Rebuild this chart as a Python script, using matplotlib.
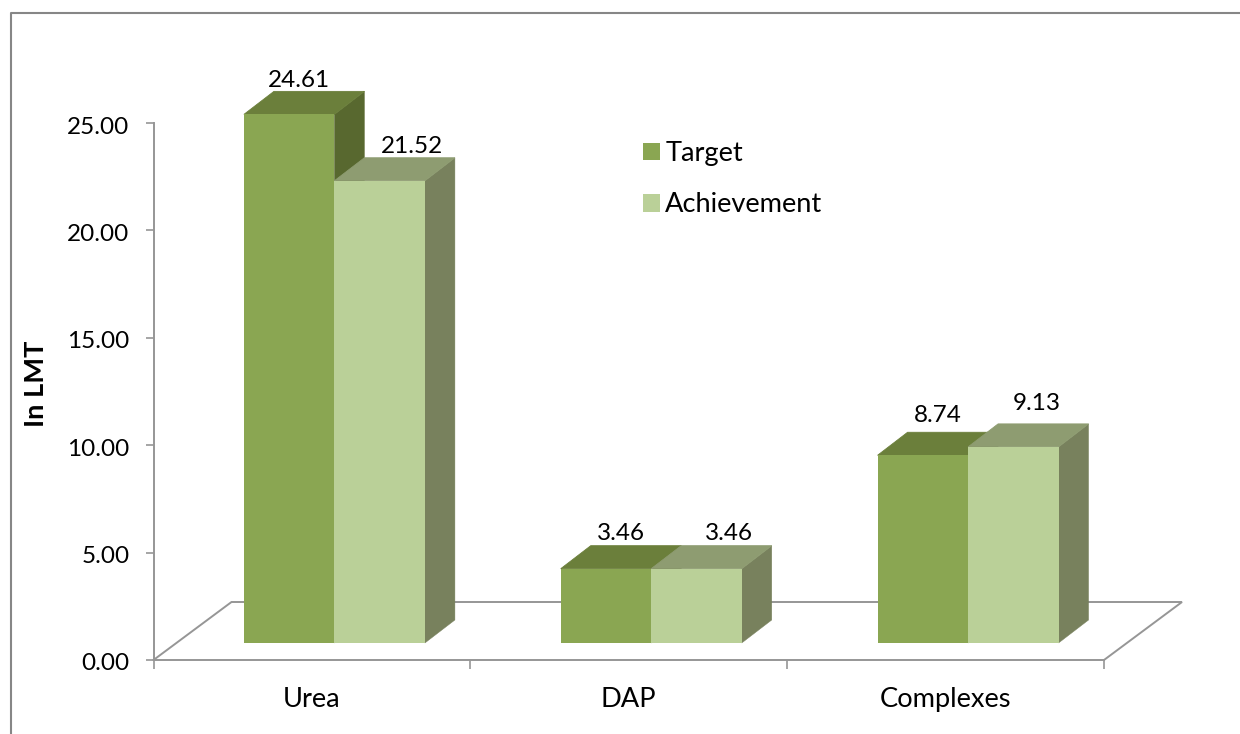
import matplotlib
matplotlib.use("Agg")
import matplotlib.pyplot as plt
from matplotlib.lines import Line2D
from matplotlib.patches import Patch
from matplotlib.transforms import ScaledTranslation

categories = ["Urea", "DAP", "Complexes"]
target = [24.61, 3.46, 8.74]
achievement = [21.52, 3.46, 9.13]
y_ticks = [0, 5, 10, 15, 20, 25]
series_names = ["Target", "Achievement"]

W, H = 1240, 734
plt.rcParams["font.family"] = ["Lato", "DejaVu Sans"]
FS_NUM = 17.5
FS_TXT = 19.6
AXC = "#969696"

fig = plt.figure(figsize=(W / 100, H / 100), dpi=100, facecolor="white")
L, R, T, B = 153.5, 1104, 123, 660
ax = fig.add_axes([L / W, 1 - B / H, (R - L) / W, (B - T) / H])
ax.set_xlim(0, 3)
ax.set_ylim(0, 25)
ax.patch.set_alpha(0)

px = 3 / (R - L)          # x data units per pixel
py = 25 / (B - T)         # y data units per pixel

for s in ("top", "right"):
    ax.spines[s].set_visible(False)
for s in ("left", "bottom"):
    ax.spines[s].set_color(AXC)
    ax.spines[s].set_linewidth(1.4)

ax.set_yticks(y_ticks)
ax.set_yticklabels([f"{v:.2f}" for v in y_ticks], fontsize=FS_NUM, color="black")
ax.tick_params(axis="y", length=5.8, width=1.2, color=AXC, pad=11.5)
nudge = ScaledTranslation(0, -2 / 100, fig.dpi_scale_trans)
for lab in ax.get_yticklabels():
    lab.set_transform(lab.get_transform() + nudge)
ax.set_xticks(range(4))
ax.set_xticklabels([])
ax.tick_params(axis="x", which="major", length=6.5, width=1.2, color=AXC)
ax.set_xticks([0.5, 1.5, 2.5], minor=True)
ax.set_xticklabels(categories, minor=True, fontsize=FS_TXT, color="black")
ax.tick_params(axis="x", which="minor", length=0, pad=19.5)

# floor of the 3D plot
fdx, fdy = 78 * px, 58 * py
floor_kw = dict(color=AXC, lw=1.4, clip_on=False, zorder=1, solid_joinstyle="miter")
ax.plot([0, fdx, 3 + fdx, 3], [0, fdy, fdy, 0], **floor_kw)

# 3D columns
bar_w = 90.5 * px
shift = 22.5 * px
base = 17 * py
ddx, ddy = 30 * px, 23 * py
styles = [
    ("#8AA652", "#6B7F3B", "#58682F"),
    ("#BAD098", "#8E9C71", "#78815D"),
]
label_off = [[(10, 11), (15, 12), (15, 17)],
             [(32, 11), (32, 12), (23, 20)]]

for k, vals in enumerate([target, achievement]):
    front, top, side = styles[k]
    for i, v in enumerate(vals):
        x0 = i + 0.5 + shift + (k - 1) * bar_w
        x1 = x0 + bar_w
        y1 = base + v
        z = 3 + i * 3 + k
        ax.fill([x1, x1 + ddx, x1 + ddx, x1], [base, base + ddy, y1 + ddy, y1],
                facecolor=side, edgecolor=side, lw=0.3, clip_on=False, zorder=z)
        ax.fill([x0, x1, x1 + ddx, x0 + ddx], [y1, y1, y1 + ddy, y1 + ddy],
                facecolor=top, edgecolor=top, lw=0.6, clip_on=False, zorder=z)
        ax.bar(x0, v, bar_w, bottom=base, align="edge", color=front, lw=0,
               clip_on=False, zorder=z + 0.5)
        dx, dy = label_off[k][i]
        ax.annotate(f"{v:.2f}", ((x0 + x1) / 2, y1 + ddy), xytext=(dx, dy),
                    textcoords="offset pixels", ha="center", va="center",
                    fontsize=FS_NUM, color="black", zorder=30, annotation_clip=False)

handles = [Patch(facecolor=styles[0][0], lw=0), Patch(facecolor=styles[1][0], lw=0)]
ax.legend(handles, series_names, loc="upper left",
          bbox_to_anchor=((643 - L) / (R - L), (B - 141) / (B - T)),
          frameon=False, fontsize=FS_TXT, handlelength=0.63, handleheight=0.63,
          handletextpad=0.19, labelspacing=0.97, borderpad=0, borderaxespad=0)

fig.text(36 / W, 1 - 383.5 / H, "In LMT", rotation=90, ha="center", va="center",
         fontsize=FS_TXT, fontweight="bold", color="black")

# outer chart frame (only its top and left edges are in view)
frame_kw = dict(color="#868686", lw=1.5, transform=fig.transFigure)
fig.add_artist(Line2D([10.5 / W, 10.5 / W, 1], [0, 1 - 12.5 / H, 1 - 12.5 / H], **frame_kw))

fig.savefig("out.png", dpi=100, facecolor="white")
